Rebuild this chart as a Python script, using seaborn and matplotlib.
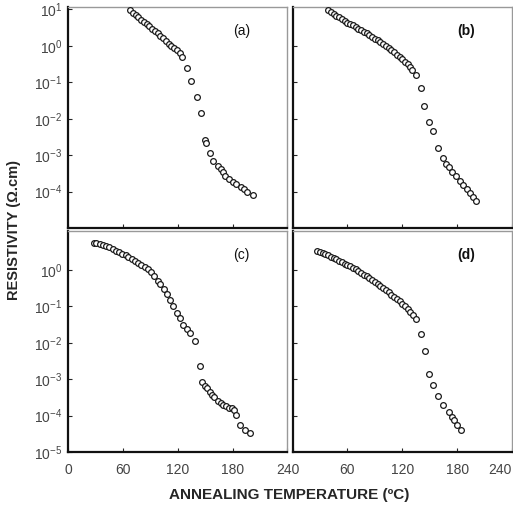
import numpy as np
import pandas as pd
import seaborn as sns
import matplotlib.pyplot as plt
from matplotlib.ticker import NullLocator, FixedLocator, LogFormatterSciNotation

# annealing temperature (C) and log10 of resistivity (ohm.cm)
temp_a = [68, 71, 74, 77, 80, 83, 86, 89, 92, 95, 98, 101, 104, 107, 110, 113, 116, 119, 122, 125,
          130, 135, 141, 145, 149.5, 150.5, 155, 159, 164, 167, 169, 172, 176, 180, 184, 189, 192, 196, 202]
logr_a = [0.97, 0.91, 0.85, 0.78, 0.72, 0.66, 0.60, 0.54, 0.47, 0.41, 0.35, 0.28, 0.21, 0.13, 0.06, 0.00,
          -0.07, -0.12, -0.20, -0.32,
          -0.62, -0.97, -1.41, -1.84, -2.58, -2.66, -2.93, -3.16, -3.30, -3.38, -3.46, -3.57, -3.65,
          -3.73, -3.78, -3.86, -3.92, -4.00, -4.08]

temp_b = [39, 42, 45, 48, 51, 54, 57, 60, 63, 66, 69, 72, 75, 78, 81, 84, 87, 90, 93, 96, 99, 102,
          105, 108, 111, 114, 117, 120, 123, 126, 129, 131,
          135, 140, 144, 149.5, 154, 159, 165, 168, 171, 174.5, 179, 183, 186.5, 191, 194, 197.5, 201]
logr_b = [0.97, 0.92, 0.87, 0.83, 0.78, 0.73, 0.69, 0.64, 0.60, 0.56, 0.52, 0.47, 0.43, 0.38, 0.34,
          0.29, 0.25, 0.20, 0.15, 0.10, 0.05, 0.00, -0.06, -0.12, -0.18, -0.24, -0.30, -0.36, -0.43,
          -0.50, -0.57, -0.65,
          -0.81, -1.16, -1.65, -2.08, -2.35, -2.81, -3.08, -3.24, -3.32, -3.46, -3.57, -3.70, -3.81,
          -3.92, -4.05, -4.16, -4.27]

temp_c = [28, 31, 35, 38, 42, 45, 49, 52, 56, 59, 63, 66, 70, 73, 77, 80, 84, 87, 91, 94, 98, 101,
          105, 108, 112, 115, 119, 122, 126, 130,
          133, 138.5, 144, 147, 150, 152, 155, 157, 160, 164, 167, 170, 173, 176, 179, 181, 184,
          188, 194, 199]
logr_c = [0.75, 0.73, 0.71, 0.69, 0.65, 0.62, 0.57, 0.53, 0.48, 0.44, 0.40, 0.35, 0.30, 0.25, 0.19,
          0.14, 0.08, 0.02, -0.06, -0.16, -0.30, -0.40, -0.52, -0.66, -0.84, -0.98, -1.18, -1.32,
          -1.50, -1.63,
          -1.72, -1.95, -2.64, -3.09, -3.18, -3.25, -3.35, -3.42, -3.50, -3.60, -3.64, -3.70, -3.74,
          -3.78, -3.80, -3.84, -3.97, -4.25, -4.39, -4.47]

temp_d = [27, 30, 33, 36, 39, 42, 45, 48, 51, 54, 57, 60, 63, 66, 69, 72, 75, 78, 81, 84, 87, 90,
          93, 96, 99, 102, 105, 108, 111, 114, 117, 120, 123, 126, 129, 132, 135,
          140.4, 145, 149.5, 154, 159, 164.7, 171, 174, 177, 180, 184]
logr_d = [0.52, 0.49, 0.46, 0.43, 0.40, 0.36, 0.33, 0.29, 0.25, 0.21, 0.17, 0.14, 0.10, 0.05, 0.01,
          -0.03, -0.08, -0.13, -0.17, -0.22, -0.28, -0.33, -0.39, -0.45, -0.51, -0.56, -0.62, -0.68,
          -0.74, -0.80, -0.86, -0.93, -1.00, -1.08, -1.16, -1.25, -1.36,
          -1.77, -2.23, -2.87, -3.17, -3.46, -3.70, -3.91, -4.03, -4.13, -4.25, -4.39]

panels = ['(a)', '(b)', '(c)', '(d)']
xticks = [0, 60, 120, 180, 240]

sns.set_style('ticks')
plt.rcParams['font.family'] = ['Liberation Sans', 'DejaVu Sans']

fig, axes = plt.subplots(2, 2, figsize=(5.13, 5.12), dpi=100)
fig.subplots_adjust(left=0.1326, right=0.998, top=0.986, bottom=0.117, wspace=0.023, hspace=0.014)

data = [(temp_a, logr_a), (temp_b, logr_b), (temp_c, logr_c), (temp_d, logr_d)]
for i, ax in enumerate(axes.flat):
    t, lr = data[i]
    df = pd.DataFrame({'T': t, 'rho': 10.0 ** np.array(lr)})
    sns.scatterplot(data=df, x='T', y='rho', ax=ax, marker='o', s=17,
                    facecolor='white', edgecolor='#1a1a1a', linewidth=0.9, zorder=3)
    ax.set_yscale('log')
    ax.set_xlim(0, 240)
    ax.set_ylim(1e-5, 1.15e1)
    ax.set_xlabel('')
    ax.set_ylabel('')
    ax.yaxis.set_minor_locator(NullLocator())
    ax.xaxis.set_major_locator(FixedLocator(xticks))
    ax.tick_params(direction='in', length=3, width=0.8, labelsize=10, labelcolor='#444444', pad=4)
    ax.tick_params(axis='x', pad=8)
    for s in ['left', 'bottom']:
        ax.spines[s].set_color('#111111')
        ax.spines[s].set_linewidth(1.6)
    for s in ['top', 'right']:
        ax.spines[s].set_color('#999999')
        ax.spines[s].set_linewidth(1.0)
    wt = 'bold' if i % 2 == 1 else 'normal'
    ax.text(0.79, 0.89, panels[i], transform=ax.transAxes, fontsize=10, fontweight=wt,
            ha='center', va='center', color='#111111')

# y tick labels only on the left column
axes[0, 0].yaxis.set_major_locator(FixedLocator([1e-4, 1e-3, 1e-2, 1e-1, 1e0, 1e1]))
axes[1, 0].yaxis.set_major_locator(FixedLocator([1e-5, 1e-4, 1e-3, 1e-2, 1e-1, 1e0]))
for ax in axes[:, 0]:
    ax.yaxis.set_major_formatter(LogFormatterSciNotation())
for ax in axes[:, 1]:
    ax.yaxis.set_major_locator(FixedLocator([1e-4, 1e-3, 1e-2, 1e-1, 1e0]))
    ax.tick_params(axis='y', labelleft=False)
for ax in axes[0, :]:
    ax.tick_params(axis='x', labelbottom=False)
axes[1, 1].set_xticks(xticks)
axes[1, 1].set_xticklabels(['', '60', '120', '180', '240'])
axes[1, 1].get_xticklabels()[-1].set_horizontalalignment('right')

fig.text(0.028, 0.55, 'RESISTIVITY (\u03a9.cm)', rotation=90, ha='center', va='center',
         fontsize=10.5, fontweight='bold')
fig.text(0.563, 0.033, 'ANNEALING TEMPERATURE (\u00baC)', ha='center', va='center',
         fontsize=11, fontweight='bold')

plt.savefig('out.png', dpi=100)
